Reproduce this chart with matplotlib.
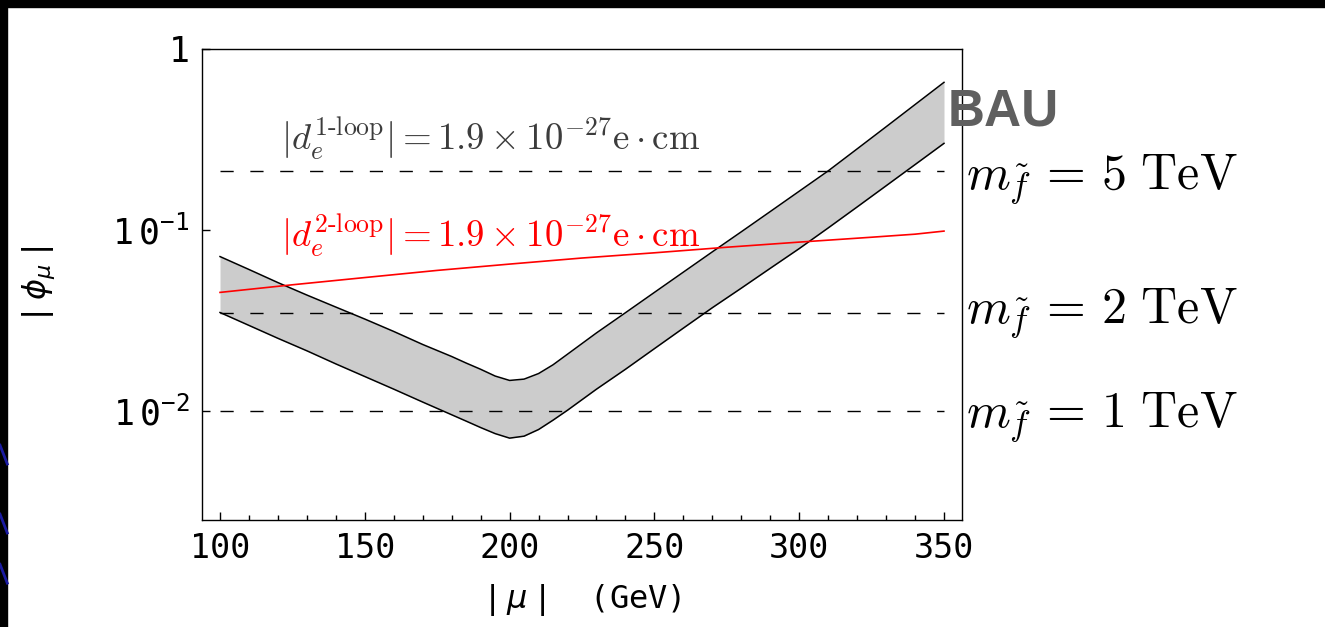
import matplotlib
matplotlib.use("Agg")
import matplotlib.pyplot as plt
from matplotlib.lines import Line2D
from matplotlib.patches import Rectangle
from matplotlib.ticker import FixedLocator, MultipleLocator

plt.rcParams["mathtext.fontset"] = "custom"
plt.rcParams["mathtext.rm"] = "DejaVu Sans Mono"
plt.rcParams["mathtext.it"] = "DejaVu Sans:italic"

# band edges (|mu| in GeV, |phi_mu|)
mu = [100, 110, 120, 130, 140, 150, 160, 170, 180, 185, 190, 195, 200, 205,
      210, 215, 220, 230, 240, 250, 260, 270, 280, 290, 300, 310, 320, 330,
      340, 350]
phi_upper = [0.0713, 0.0605, 0.0512, 0.0437, 0.0375, 0.0322, 0.0275, 0.0233,
             0.0200, 0.0184, 0.0170, 0.0156, 0.01475, 0.0150, 0.0161, 0.0180,
             0.0206, 0.0270, 0.0349, 0.0452, 0.0585, 0.0757, 0.0977, 0.1264,
             0.1637, 0.212, 0.2805, 0.3715, 0.493, 0.654]
phi_lower = [0.0350, 0.0297, 0.0252, 0.0215, 0.0182, 0.0155, 0.0132, 0.0112,
             0.00953, 0.00879, 0.0081, 0.0075, 0.00708, 0.00726, 0.00790,
             0.0089, 0.0101, 0.0132, 0.0170, 0.0221, 0.0287, 0.0372, 0.0477,
             0.0614, 0.0789, 0.1026, 0.134, 0.1754, 0.2297, 0.301]

# 2-loop EDM bound
mu_red = [100, 125, 150, 175, 200, 225, 250, 275, 300, 325, 340, 350]
phi_red = [0.0452, 0.0498, 0.0546, 0.0598, 0.0648, 0.0700, 0.0748, 0.0803,
           0.0857, 0.0912, 0.0948, 0.0986]

# 1-loop bounds for sfermion masses
mass_labels = ["5", "2", "1"]
phi_mass = [0.211, 0.035, 0.0100]
mass_label_y = [0.700, 0.485, 0.319]

fig = plt.figure(figsize=(13.25, 6.27), dpi=100)
ax = fig.add_axes([0.1525, 0.1707, 0.5735, 0.7512])

ax.fill_between(mu, phi_lower, phi_upper, color="#cccccc", lw=0)
ax.plot(mu, phi_upper, color="black", lw=1.1)
ax.plot(mu, phi_lower, color="black", lw=1.1)

for p in phi_mass:
    ax.plot([100, 350], [p, p], color="black", lw=1.0, dashes=(9.5, 12))

ax.plot(mu_red, phi_red, color="red", lw=1.2)

ax.set_yscale("log")
ax.set_xlim(93.8, 356.2)
ax.set_ylim(0.0025, 1.0)

ax.xaxis.set_major_locator(MultipleLocator(50))
ax.xaxis.set_minor_locator(MultipleLocator(10))
ax.yaxis.set_major_locator(FixedLocator([0.01, 0.1, 1.0]))
ax.yaxis.set_minor_locator(FixedLocator([]))
ax.set_yticklabels([r"$1\,0^{-2}$", r"$1\,0^{-1}$", "1"])
ax.tick_params(which="both", direction="in", top=False, right=False,
               labelsize=24, width=1)
ax.tick_params(axis="y", labelsize=25)
ax.tick_params(which="major", length=6, pad=9)
ax.tick_params(which="minor", length=3.5)
for lab in ax.get_xticklabels() + ax.get_yticklabels():
    lab.set_family("DejaVu Sans Mono")
for s in ax.spines.values():
    s.set_linewidth(1.0)

ax.set_xlabel(r"$|\,\mu\,|$  (GeV)", fontsize=23, family="DejaVu Sans Mono",
              labelpad=12)
ax.set_ylabel(r"$|\,\phi_\mu\,|$", fontsize=23, labelpad=40)

ax.text(121, 0.273, r"$|d_e^{\mathrm{1\text{-}loop}}| = 1.9\times10^{-27}\mathrm{e}\cdot\mathrm{cm}$",
        fontsize=26.5, color="#3c3c3c", math_fontfamily="cm", va="baseline")
ax.text(121, 0.0797, r"$|d_e^{\mathrm{2\text{-}loop}}| = 1.9\times10^{-27}\mathrm{e}\cdot\mathrm{cm}$",
        fontsize=26.5, color="red", math_fontfamily="cm", va="baseline")

fig.text(0.715, 0.8006, "BAU", fontsize=37, fontweight="bold",
         family="Liberation Sans", color="#5f5f5f", va="baseline")
for m, yy in zip(mass_labels, mass_label_y):
    fig.text(0.729, yy, r"$m_{\tilde{f}}\,=\," + m + r"\ \mathrm{TeV}$",
             fontsize=36, math_fontfamily="cm", va="baseline")

# slide frame
fig.patches.append(Rectangle((0, 0.989), 1, 0.011, transform=fig.transFigure,
                             color="black", zorder=0))
fig.patches.append(Rectangle((0, 0), 0.0055, 1, transform=fig.transFigure,
                             color="black", zorder=0))
for y0 in [0.26, 0.15, 0.07]:
    fig.lines.append(Line2D([0.0, 0.0055], [y0 + 0.03, y0],
                            transform=fig.transFigure, color="#1a1aa0", lw=2))

fig.savefig("out.png", dpi=100, facecolor="white")
